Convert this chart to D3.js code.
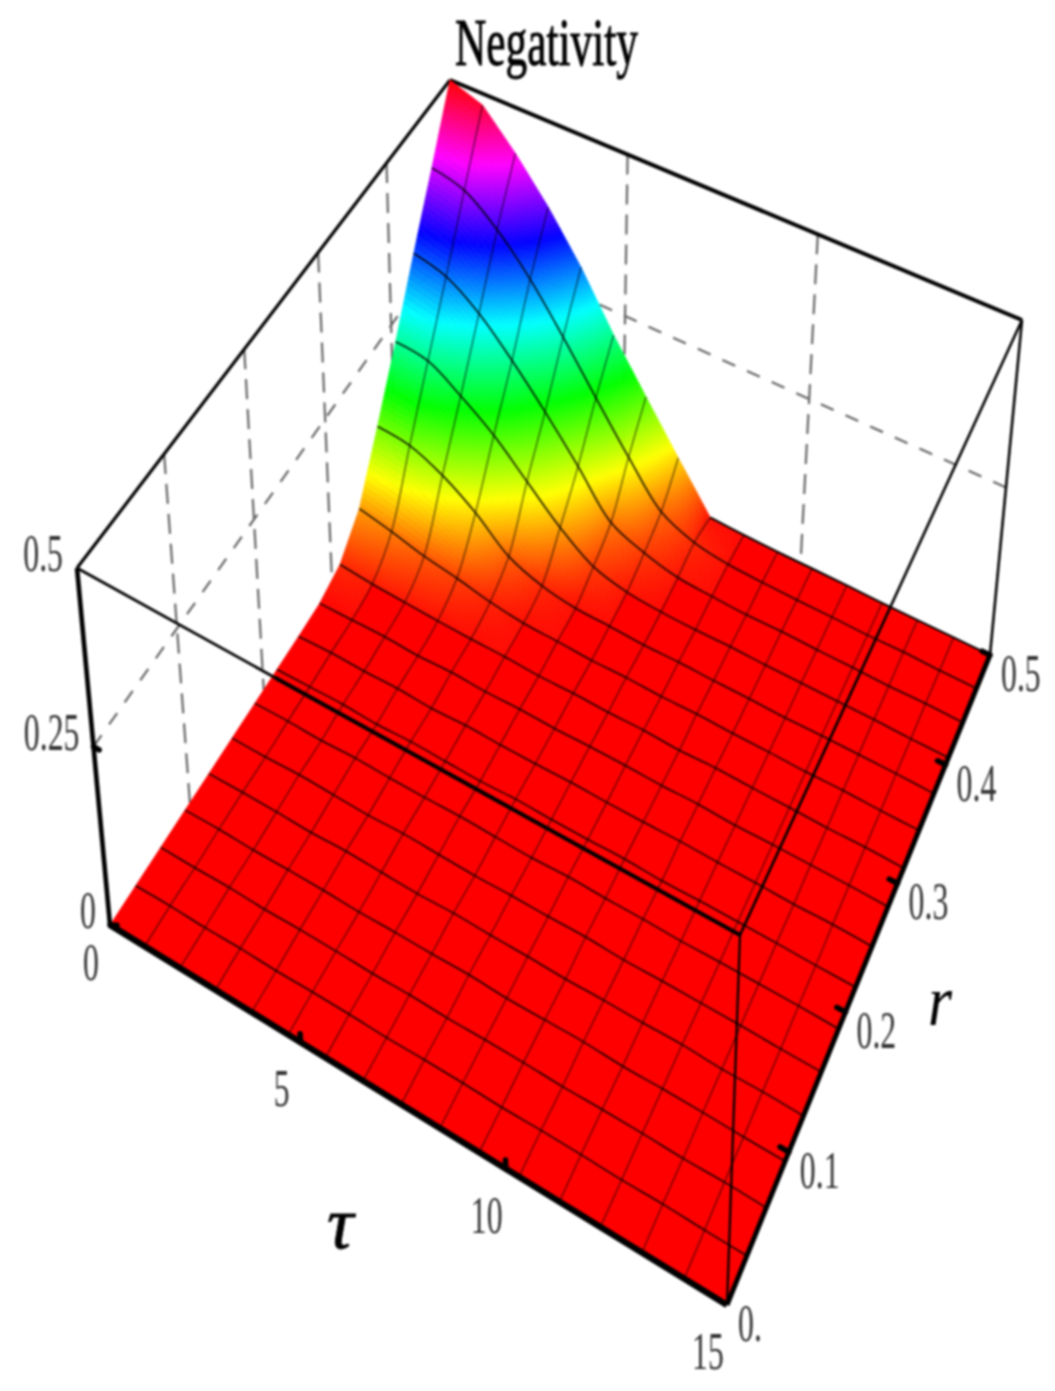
<!DOCTYPE html>
<html>
<head>
<meta charset="utf-8">
<script src="https://cdn.jsdelivr.net/npm/d3@7"></script>
<style>
  html, body { margin:0; padding:0; background:#fff; }
  svg { display:block; filter:blur(0.8px); }
  text { font-family:"Liberation Serif", serif; }
</style>
</head>
<body>
<svg id="svg-surface" width="1055" height="1391"></svg>
<script>
// Axis ticks
var tauTicks = [0, 5, 10, 15];
var rTicks = [0, 0.1, 0.2, 0.3, 0.4, 0.5];
var rTickLabels = ["0.", "0.1", "0.2", "0.3", "0.4", "0.5"];
var zTicks = [0, 0.25, 0.5];
var zTickLabels = ["0", "0.25", "0.5"];

// Negativity: one row per r line (r = 0 first), 17 tau columns
var negativity = [
  [0,0,0,0,0,0,0,0,0,0,0,0,0,0,0,0,0],
  [0,.001,0,.001,0,.001,.001,0,.001,.001,0,.001,.001,0,.001,0,0],
  [0,0,.001,0,.001,.001,0,.001,0,.001,.001,0,.001,.001,0,.001,0],
  [0,.001,0,.001,.001,0,.001,.001,.002,0,.001,.002,0,.001,.001,0,0],
  [0,.001,.001,0,.002,.001,0,.002,.001,.001,0,.001,.001,.002,0,.001,0],
  [0,0,.002,.001,0,.002,.001,0,.001,.001,.002,0,.001,.001,.001,0,0],
  [0,.001,0,.002,.001,.001,.002,.001,0,.002,.001,.001,0,.001,.001,.001,0],
  [0,.001,.002,0,.002,.001,0,.002,.001,.001,.002,0,.001,.001,.001,0,0],
  [0,.002,.001,.002,0,.002,.001,.001,.002,.001,.001,.002,.001,.001,0,.001,0],
  [.001,.002,.003,.001,.003,.001,.002,.001,.002,.002,.001,.002,0,.001,.001,.001,0],
  [.012,.008,.006,.004,.003,.003,.001,.002,.001,.002,0,.002,.001,.001,0,.001,0],
  [.05,.04,.028,.02,.01,.004,.003,.001,.002,.001,.002,.001,.001,0,.001,0,0],
  [.13,.125,.104,.072,.031,.012,.004,.003,.001,.002,.001,.001,0,.001,.001,.001,0],
  [.216,.21,.18,.144,.098,.053,.019,.006,.002,.001,.002,.001,.001,.001,.001,0,0],
  [.31,.297,.263,.214,.159,.1,.039,.018,.006,.003,.001,.002,.001,.001,0,.001,0],
  [.402,.389,.35,.296,.23,.16,.093,.034,.012,.004,.002,.001,.001,0,.001,0,0],
  [.5,.482,.428,.366,.295,.213,.141,.071,.004,.002,.001,.001,.001,0,0,0,0]
];

var n_cells = negativity.length - 1;
var svg = d3.select("#svg-surface");

// Scales from data to the unit cube
var tauScale = d3.scaleLinear().domain([0, 15]).range([0, 1]);
var rScale = d3.scaleLinear().domain([0, 0.5]).range([0, 1]);
var zScale = d3.scaleLinear().domain([0, 0.5]).range([0, 1]);

// Box corners on the page, order (0,0) (1,0) (1,1) (0,1) in tau,r
var floor_quad = [[110,925], [727,1305], [990,655], [455,397]];
var roof_quad = [[77,568], [740,935], [1022,320], [450,80]];

// unit square to quad, perspective
var makeHomography = function(q) {
  var dx1 = q[1][0]-q[2][0], dx2 = q[3][0]-q[2][0], sx = q[0][0]-q[1][0]+q[2][0]-q[3][0];
  var dy1 = q[1][1]-q[2][1], dy2 = q[3][1]-q[2][1], sy = q[0][1]-q[1][1]+q[2][1]-q[3][1];
  var den = dx1*dy2 - dx2*dy1;
  var g = (sx*dy2 - dx2*sy)/den, h = (dx1*sy - sx*dy1)/den;
  return function(u, v) {
    var w = 1 + g*u + h*v;
    return [(q[0][0] + (q[1][0]-q[0][0]+g*q[1][0])*u + (q[3][0]-q[0][0]+h*q[3][0])*v)/w,
            (q[0][1] + (q[1][1]-q[0][1]+g*q[1][1])*u + (q[3][1]-q[0][1]+h*q[3][1])*v)/w];
  };
}
var floorH = makeHomography(floor_quad);
var roofH = makeHomography(roof_quad);

var project = function(tau, r, z) {
  var u = tauScale(tau), v = rScale(r), t = zScale(z);
  var a = floorH(u, v), b = roofH(u, v);
  return [a[0] + (b[0]-a[0])*t, a[1] + (b[1]-a[1])*t];
}

// Mesh index to data value
var tauAt = function(j) { return tauScale.invert(j/n_cells); }
var rAt = function(k) { return rScale.invert(k/n_cells); }
var nodePoint = function(j, k) { return project(tauAt(j), rAt(k), negativity[k][j]); }

// Height colouring, one full hue turn per 0.5
var hueColor = function(z) { return d3.hsl((z*720)%360, 1, 0.5).formatHex(); }

var polyLine = d3.line();
var smoothLine = d3.line().curve(d3.curveCatmullRom);

// Back wall grid (dashed), under the surface
var dashed = svg.append("g")
                .attr("fill", "none")
                .attr("stroke", "#666")
                .attr("stroke-width", 2.2)
                .attr("stroke-dasharray", "20,10");
rTicks.filter(function(d) { return d > 0 && d < 0.5; }).forEach(function(d) {
  dashed.append("path").attr("d", polyLine([project(0, d, 0.5), project(0, d, 0)]));
});
tauTicks.filter(function(d) { return d > 0 && d < 15; }).forEach(function(d) {
  dashed.append("path").attr("d", polyLine([project(d, 0.5, 0.5), project(d, 0.5, 0)]));
});
dashed.append("path").attr("stroke-dasharray", "14,13")
      .attr("d", polyLine([project(0, 0, 0.25), project(0, 0.5, 0.25), project(15, 0.5, 0.25)]));

// Back box edges
var boxLine = function(a, b, w) {
  svg.append("path")
     .attr("d", polyLine([a, b]))
     .attr("fill", "none")
     .attr("stroke", "#000")
     .attr("stroke-width", w);
}
boxLine(project(0, 0, 0.5), project(0, 0.5, 0.5), 3.2);
boxLine(project(0, 0.5, 0.5), project(15, 0.5, 0.5), 4);
boxLine(project(15, 0.5, 0.5), project(15, 0.5, 0), 2.6);

// Surface cells, back to front, subdivided where the colour changes
var quads = [];
for (var k = n_cells-1; k >= 0; k--) {
  for (var j = 0; j < n_cells; j++) {
    var z00 = negativity[k][j], z10 = negativity[k][j+1], z01 = negativity[k+1][j], z11 = negativity[k+1][j+1];
    var steps = d3.max([z00, z10, z01, z11]) > 0.008 ? 14 : 1;
    for (var a = 0; a < steps; a++) {
      for (var b = 0; b < steps; b++) {
        var corners = [[a,b], [a+1,b], [a+1,b+1], [a,b+1]].map(function(c) {
          var s = c[0]/steps, t = c[1]/steps;
          var z = z00*(1-s)*(1-t) + z10*s*(1-t) + z01*(1-s)*t + z11*s*t;
          return project(tauAt(j+s), rAt(k+t), z);
        });
        var s = (a+0.5)/steps, t = (b+0.5)/steps;
        var z_mid = z00*(1-s)*(1-t) + z10*s*(1-t) + z01*(1-s)*t + z11*s*t;
        quads.push({ pts:corners, fill:hueColor(steps == 1 ? 0 : z_mid) });
      }
    }
  }
}
svg.append("g").selectAll("path")
   .data(quads)
   .join("path")
   .attr("d", function(d) { return polyLine(d.pts) + "Z"; })
   .attr("fill", function(d) { return d.fill; })
   .attr("stroke", function(d) { return d.fill; })
   .attr("stroke-width", 0.7);

// Mesh lines
var mesh = svg.append("g").attr("fill", "none").attr("stroke", "#000");
d3.range(1, n_cells).forEach(function(k) { // lines of constant r
  mesh.append("path")
      .attr("d", smoothLine(d3.range(0, n_cells+1).map(function(j) { return nodePoint(j, k); })))
      .attr("stroke-width", 1.6)
      .attr("stroke-opacity", 0.9);
});
d3.range(1, n_cells).forEach(function(j) { // lines of constant tau
  mesh.append("path")
      .attr("d", smoothLine(d3.range(0, n_cells+1).map(function(k) { return nodePoint(j, k); })))
      .attr("stroke-width", 1.2)
      .attr("stroke-opacity", 0.65);
});
// back rim of the flat part
mesh.append("path")
    .attr("d", smoothLine(d3.range(8, n_cells+1).map(function(j) { return nodePoint(j, n_cells); })))
    .attr("stroke-width", 2);

// Front box edges, over the surface
boxLine(project(0, 0, 0.5), project(0, 0, 0), 4.6);
boxLine(project(0, 0, 0.5), project(15, 0, 0.5), 2.8);
boxLine(project(4.9, 0, 0.5), project(15, 0, 0.5), 4);
boxLine(project(15, 0, 0.5), project(15, 0, 0), 2.2);
boxLine(project(15, 0, 0.5), project(15, 0.5, 0.5), 2.6);
boxLine(project(0, 0, 0), project(15, 0, 0), 6.4);
boxLine(project(15, 0, 0), project(15, 0.5, 0), 5);

// Tick marks
var tickMark = function(a, b) {
  svg.append("path")
     .attr("d", polyLine([a, b]))
     .attr("stroke", "#000")
     .attr("stroke-width", 5.5)
     .attr("stroke-linecap", "round");
}
tauTicks.filter(function(d) { return d > 0 && d < 15; }).forEach(function(d) {
  tickMark(project(d, 0, 0), project(d, 0, 0.012));
});
rTicks.filter(function(d) { return d > 0; }).forEach(function(d) {
  tickMark(project(15, d, 0), project(14.8, d, 0));
});
tickMark(project(0, 0, 0.25), project(0.15, 0, 0.25));
tickMark(project(0, 0, 0), project(0.2, 0, 0.006));

// Tick labels: tall narrow serif like the stretched original
var tickLabel = function(txt, x, y, anchor) {
  svg.append("text")
     .attr("transform", "translate(" + x + "," + y + ") scale(0.6,1)")
     .attr("text-anchor", anchor)
     .attr("font-size", 53)
     .attr("fill", "#333")
     .text(txt);
}
tauTicks.forEach(function(d) {
  var p = project(d, 0, 0);
  tickLabel(String(d), p[0]-19, p[1] + (d == 0 ? 55 : 64), "middle");
});
rTicks.forEach(function(d, i) {
  var p = project(15, d, 0);
  tickLabel(rTickLabels[i], p[0]+11, p[1]+36, "start");
});
zTicks.forEach(function(d, i) {
  var p = project(0, 0, d);
  tickLabel(zTickLabels[i], p[0]-14, p[1]+3, "end");
});

// Title and axis names
svg.append("text")
   .attr("x", 455)
   .attr("y", 65)
   .attr("font-size", 68)
   .attr("textLength", 183)
   .attr("lengthAdjust", "spacingAndGlyphs")
   .attr("stroke", "#000")
   .attr("stroke-width", 1)
   .text("Negativity");
svg.append("text")
   .attr("x", 327)
   .attr("y", 1248)
   .attr("font-size", 74)
   .attr("font-style", "italic")
   .attr("stroke", "#000")
   .attr("stroke-width", 0.8)
   .text("τ");
svg.append("text")
   .attr("x", 928)
   .attr("y", 1025)
   .attr("font-size", 72)
   .attr("font-style", "italic")
   .attr("textLength", 24)
   .attr("lengthAdjust", "spacingAndGlyphs")
   .text("r");
</script>
</body>
</html>
